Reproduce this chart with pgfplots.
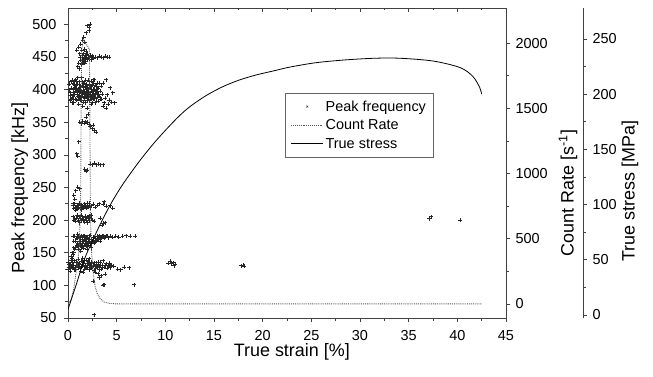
\documentclass[border=0pt]{standalone}
\usepackage{fontspec}
\setmainfont{Liberation Sans}
\usepackage{pgfplots}
\pgfplotsset{compat=1.18}
\pgfplotsset{every axis/.append style={scale only axis, height=310bp,
  /pgf/number format/assume math mode=true, /pgf/number format/1000 sep={},
  tick label style={font=\fontsize{14.5}{16}\selectfont},
  label style={font=\fontsize{18}{21}\selectfont},
  axis line style={black!75, line width=0.6pt},
  tick style={black!75, line width=0.6pt},
  major tick length=4bp, minor tick length=2.5bp},
  shortline legend/.style={legend image code/.code={\draw[##1] (0bp,0bp) -- (32bp,0bp);}},
  shortmark legend/.style={legend image code/.code={\draw[##1] plot coordinates {(16bp,0bp)};}}}
\begin{document}
\begin{tikzpicture}
\path[use as bounding box] (-68bp,-59bp) rectangle (585bp,318bp);
% main axis: peak frequency
\begin{axis}[width=438bp, xmin=0, xmax=45, ymin=50, ymax=525,
  axis x line*=bottom, axis y line*=left, xtick pos=left, ytick pos=left,
  tick align=outside,
  xtick={0,5,...,45}, ytick={50,100,...,500},
  minor x tick num=1, minor y tick num=1,
  xlabel={True strain [\%]}, ylabel={Peak frequency [kHz]},
  xlabel style={at={(axis description cs:0.511,-0.11)}, anchor=center},
  ylabel style={at={(axis description cs:-0.11,0.42)}, anchor=center},
  xticklabel style={yshift=-5bp}, yticklabel style={xshift=-4bp}]
\addplot[only marks, mark=+, mark size=2pt, black!85, mark options={line width=0.7pt}] coordinates {
(0.2,395) (0.3,402) (0.4,388) (0.5,410) (0.5,396) (0.6,380) (0.7,404) (0.7,392) (0.8,415) (0.8,385)
(0.9,398) (1.0,408) (1.0,390) (1.1,378) (1.1,401) (1.2,412) (1.2,395) (1.3,384) (1.3,405) (1.4,398)
(1.4,418) (1.5,390) (1.5,375) (1.6,403) (1.6,410) (1.7,386) (1.7,396) (1.8,414) (1.8,380) (1.9,400)
(1.9,392) (2.0,406) (2.0,372) (2.1,388) (2.1,398) (2.2,412) (2.2,383) (2.3,395) (2.3,404) (2.4,378)
(2.4,390) (2.5,408) (2.5,396) (2.6,385) (2.6,401) (2.7,392) (2.7,415) (2.8,380) (2.8,398) (2.9,405)
(3.0,388) (3.0,395) (3.1,382) (3.1,402) (3.2,390) (3.3,398) (3.4,385) (3.5,393) (3.6,410) (3.7,380)
(3.8,387) (3.9,415) (4.0,392) (4.1,378) (4.2,384) (4.3,403) (4.5,381) (4.6,395) (4.8,380) (3.6,375)
(3.9,372) (0.3,385) (0.4,414) (0.6,400) (0.9,384) (1.0,418) (1.2,386) (1.4,383) (1.6,381) (1.8,392)
(2.0,397) (2.2,402) (2.4,413) (2.6,392) (2.9,386) (3.2,410) (0.15,408) (0.25,391) (0.45,380) (0.55,392)
(0.65,413) (0.75,398) (0.85,407) (0.95,393) (1.05,385) (1.15,396) (1.25,403) (1.35,391) (1.45,407) (1.55,399)
(1.65,388) (1.75,405) (1.85,397) (1.95,383) (2.05,391) (2.15,408) (2.25,390) (2.35,385) (2.45,400) (2.55,389)
(2.65,410) (2.75,386) (2.85,392) (2.95,398) (3.05,410) (3.15,393)
(0.1,400) (0.2,384) (0.35,412) (0.5,385) (0.6,408) (0.8,402) (0.9,412) (1.0,396) (1.1,388) (1.2,404)
(1.3,396) (1.4,390) (1.5,412) (1.6,394) (1.7,410) (1.8,403) (1.9,408) (2.0,387) (2.1,414) (2.2,394)
(2.3,385) (2.4,405) (2.5,380) (2.6,415) (2.7,401) (2.8,407) (2.9,394) (3.0,401) (3.3,385) (3.4,405)
(1.0,435) (1.1,440) (1.2,432) (1.3,445) (1.4,438) (1.5,450) (1.5,442) (1.6,455) (1.6,447) (1.7,448)
(1.7,440) (1.8,452) (1.8,444) (1.9,449) (2.0,446) (2.0,454) (2.1,450) (2.2,447) (2.3,451) (2.4,449)
(2.5,452) (2.6,448) (2.8,450) (3.0,449) (3.2,451) (3.4,450) (3.6,449) (3.8,451) (4.0,450) (4.2,450)
(1.4,460) (1.7,462) (1.9,458) (1.25,450) (1.45,452) (1.65,444) (1.85,455) (2.05,450) (2.25,453) (2.45,446)
(2.0,498) (2.2,496) (2.3,500) (1.9,487) (2.2,490) (1.6,480) (1.5,476) (1.3,470) (1.7,473) (0.9,460)
(1.1,465) (1.2,455)
(1.2,350) (1.4,348) (1.5,352) (1.7,349) (1.8,351) (2.0,350) (2.2,347) (2.3,343) (2.5,340) (2.7,338)
(2.9,335) (2.6,345) (1.1,320) (0.9,302) (1.0,298) (1.9,358) (2.1,362)
(2.3,286) (2.5,285) (2.7,287) (2.9,285) (3.1,286) (3.3,285) (3.6,285) (1.7,278) (1.9,275) (2.0,277)
(0.6,238) (0.8,245) (1.0,250) (1.2,248) (0.7,232)
(0.5,222) (0.6,218) (0.7,225) (0.8,215) (0.9,220) (1.0,223) (1.1,218) (1.2,226) (1.3,220) (1.4,216)
(1.5,222) (1.6,219) (1.7,225) (1.8,221) (1.9,218) (2.0,223) (2.1,220) (2.2,226) (2.4,222) (2.6,224)
(2.8,220) (3.0,223) (3.2,225) (3.6,224) (3.9,221) (4.3,222) (4.6,218) (3.7,228)
(0.55,225) (0.75,220) (0.95,217) (1.15,224) (1.35,222) (1.55,218) (1.75,221) (1.95,226) (2.15,223) (2.3,219)
(0.5,205) (0.6,200) (0.8,198) (0.9,203) (1.0,207) (1.1,200) (1.2,196) (1.3,203) (1.4,199) (1.5,205)
(1.6,201) (1.7,197) (1.8,204) (1.9,200) (2.0,196) (2.1,203) (2.2,199) (2.3,205) (2.5,200) (2.7,198)
(3.5,192) (3.6,195) (3.8,196) (3.3,203)
(0.7,203) (0.95,208) (1.15,205) (1.35,208) (1.55,200) (1.75,206) (1.95,204) (2.15,207) (2.35,202) (2.4,208)
(0.1,128) (0.2,132) (0.3,138) (0.4,142) (0.5,147) (0.6,150) (0.7,155) (0.8,158) (0.9,162) (0.4,150)
(0.6,158) (0.3,145)
(1.0,165) (1.0,172) (1.1,160) (1.2,168) (1.3,163) (1.3,174) (1.4,158) (1.5,170) (1.5,165) (1.6,175)
(1.7,162) (1.7,169) (1.8,172) (1.9,160) (1.9,167) (2.0,174) (2.0,164) (2.1,170) (2.2,166) (2.2,176)
(2.3,162) (2.4,171) (2.5,168) (2.6,174) (2.7,165) (2.8,172) (2.9,169) (3.0,175) (3.1,170) (3.2,173)
(3.3,168) (3.5,175) (3.7,172) (3.9,176) (4.1,173) (4.3,175) (4.6,174) (4.9,175) (5.2,174) (5.6,175)
(6.0,176) (6.4,175) (6.9,175) (1.1,155) (1.3,152) (1.6,157) (2.0,155) (2.4,158) (0.7,175) (1.0,178)
(0.5,175) (0.6,168)
(0.8,168) (0.9,172) (1.0,160) (1.1,175) (1.2,162) (1.3,170) (1.4,176) (1.5,160) (1.6,168) (1.7,176)
(1.8,164) (1.9,174) (2.1,162) (2.2,171) (2.3,177) (2.4,165) (2.6,169) (2.8,166) (3.0,169) (3.2,176)
(3.4,172) (3.6,176) (3.8,174) (4.0,175)
(0.0,125) (0.1,132) (0.2,122) (0.3,128) (0.4,135) (0.5,126) (0.6,131) (0.7,138) (0.8,124) (0.9,130)
(1.0,135) (1.1,127) (1.2,132) (1.3,122) (1.4,137) (1.5,129) (1.6,134) (1.7,125) (1.8,131) (1.9,139)
(2.0,127) (2.1,133) (2.2,124) (2.3,130) (2.4,136) (2.5,128) (2.6,133) (2.7,123) (2.8,130) (2.9,135)
(3.0,127) (3.1,132) (3.2,129) (3.3,136) (3.4,125) (3.5,131) (3.7,128) (3.9,133) (4.1,130) (4.3,127)
(4.5,131) (4.7,129) (5.1,125) (5.4,124) (5.8,128) (6.3,127) (1.5,142) (2.2,141) (2.8,120) (3.6,138)
(0.35,130) (0.75,128) (1.25,126) (1.75,130) (2.25,128) (2.75,135) (3.25,124) (1.05,140) (1.55,120) (2.05,137)
(0.05,135) (0.25,127) (0.45,131) (0.65,124) (0.85,136) (1.05,129) (1.15,134) (1.35,128) (1.45,132) (1.65,138)
(1.85,126) (1.95,133) (2.15,130) (2.35,126) (2.45,133) (2.65,129) (2.85,126) (2.95,131) (3.15,136) (3.35,130)
(3.55,127) (3.8,131) (4.0,126) (4.2,134) (4.4,129)
(3.1,118) (3.4,115) (3.8,117) (3.2,112) (3.6,100) (3.7,101) (2.6,106) (6.8,101) (2.7,55)
(10.3,134) (10.6,133) (10.8,135) (11.0,132) (10.5,137) (10.9,130) (17.8,130) (18.0,131) (18.1,129)
(37.3,205) (40.3,200) (37.1,202)
};
\end{axis}
% top frame with inside ticks
\begin{axis}[width=438bp, xmin=0, xmax=45, ymin=0, ymax=1,
  axis x line*=top, axis y line=none, xtick pos=right, tick align=inside,
  xtick={0,5,...,45}, minor x tick num=1, xticklabels={}]
\end{axis}
% count rate axis
\begin{axis}[width=438bp, xmin=0, xmax=45, ymin=-108, ymax=2270,
  axis x line=none, axis y line*=right, ytick pos=right, tick align=outside,
  ytick={0,500,...,2000}, minor y tick num=1,
  ylabel={Count Rate [s\textsuperscript{-1}]},
  ylabel style={at={(axis description cs:1.1416,0.403)}, anchor=center},
  yticklabel style={xshift=2bp}]
\addplot[black!65, densely dotted, line width=0.9pt] coordinates {
(0,0) (0.3,30) (0.6,120) (0.9,280) (1.15,420) (1.3,800) (1.35,1500) (1.4,1950) (1.6,2030) (1.8,2000)
(2.0,1980) (2.2,1950) (2.25,1400) (2.3,700) (2.4,420) (2.6,230) (2.8,130) (3.0,80) (3.3,40) (3.7,15)
(4.2,5) (5,0) (10,0) (42.5,0)
};
\end{axis}
% true stress axis
\begin{axis}[width=515bp, xmin=0, xmax=52.911, ymin=-2.7, ymax=278,
  axis x line=none, axis y line*=right, ytick pos=right, tick align=outside,
  ytick={0,50,...,250}, minor y tick num=1,
  ylabel={True stress [MPa]},
  ylabel style={at={(axis description cs:1.0913,0.41)}, anchor=center},
  yticklabel style={xshift=2bp},
  legend style={at={(axis description cs:0.4214,0.726)}, anchor=north west,
    draw=black!60, font=\fontsize{14.5}{17}\selectfont, row sep=3bp,
    inner sep=5.5bp}, legend cell align=left]
\addlegendimage{shortmark legend, only marks, mark=x, mark size=1.4pt, black!85}
\addlegendentry{Peak frequency}
\addlegendimage{shortline legend, black!65, densely dotted, line width=0.9pt}
\addlegendentry{Count Rate}
\addlegendimage{shortline legend, black, line width=0.8pt}
\addlegendentry{True stress}
\addplot[black, line width=0.8pt, smooth] coordinates {
(0,5) (0.9,29) (1.75,52) (3.3,82) (4.49,102) (5.68,119) (7.4,140) (9.11,158.5) (11.17,178)
(12.53,188.7) (14.25,199) (15.96,207) (17.67,213) (19.39,217.5) (21.1,221) (22.8,224.5) (25.5,228.5)
(28.5,231) (31.5,232.5) (34.1,232.5) (37.5,230) (40.3,224) (41.6,216) (42.3,206) (42.5,200)
};
\end{axis}
\end{tikzpicture}
\end{document}
